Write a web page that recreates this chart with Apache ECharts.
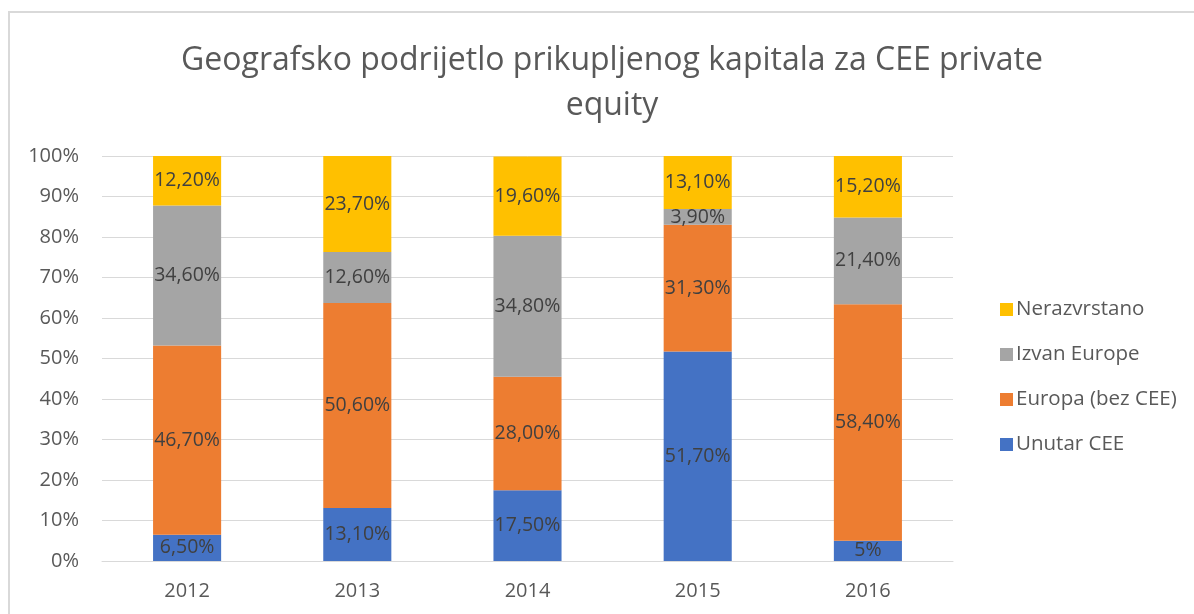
<!DOCTYPE html>
<html><head><meta charset="utf-8">
<script src="https://cdn.jsdelivr.net/npm/echarts@6/dist/echarts.min.js"></script>
<style>html,body{margin:0;padding:0;background:#fff;}#c{width:1194px;height:614px;}</style>
</head><body><div id="c"></div>
<script>
const categories = ['2012','2013','2014','2015','2016'];
const seriesNames = ['Unutar CEE','Europa (bez CEE)','Izvan Europe','Nerazvrstano'];
const unutarCEE = [6.5, 13.1, 17.5, 51.7, 5];
const europaBezCEE = [46.7, 50.6, 28.0, 31.3, 58.4];
const izvanEurope = [34.6, 12.6, 34.8, 3.9, 21.4];
const nerazvrstano = [12.2, 23.7, 19.6, 13.1, 15.2];
const unutarLabels = ['6,50%','13,10%','17,50%','51,70%','5%'];
const europaLabels = ['46,70%','50,60%','28,00%','31,30%','58,40%'];
const izvanLabels = ['34,60%','12,60%','34,80%','3,90%','21,40%'];
const nerazLabels = ['12,20%','23,70%','19,60%','13,10%','15,20%'];
const yTicks = ['0%','10%','20%','30%','40%','50%','60%','70%','80%','90%','100%'];
const colors = ['#4472c4','#ed7d31','#a5a5a5','#ffc000'];

const FONT = 'Open Sans';
const dataSets = [unutarCEE, europaBezCEE, izvanEurope, nerazvrstano];
const labelSets = [unutarLabels, europaLabels, izvanLabels, nerazLabels];

const series = seriesNames.map((n, i) => ({
  name: n, type: 'bar', stack: 'total', barWidth: '40%',
  itemStyle: {color: colors[i]},
  data: dataSets[i],
  label: {show: true, position: 'inside', color: '#404040', fontFamily: FONT, fontSize: 19.5,
    formatter: p => labelSets[i][p.dataIndex]}
}));

const chart = echarts.init(document.getElementById('c'));
chart.setOption({
  animation: false,
  textStyle: {fontFamily: FONT},
  title: {
    text: 'Geografsko podrijetlo prikupljenog kapitala za CEE private\nequity',
    left: 607, top: 33, textAlign: 'center',
    textStyle: {fontFamily: FONT, fontSize: 32, fontWeight: 'normal', color: '#595959', lineHeight: 45}
  },
  legend: {
    orient: 'vertical', left: 995, top: 294, itemGap: 24, itemWidth: 13, itemHeight: 13,
    icon: 'rect',
    data: ['Nerazvrstano','Izvan Europe','Europa (bez CEE)','Unutar CEE'],
    textStyle: {fontFamily: FONT, fontSize: 20.5, color: '#595959', padding: [0,0,0,-2]}
  },
  grid: {left: 102, right: 241, top: 156, bottom: 53, containLabel: false},
  xAxis: {
    type: 'category', data: categories,
    axisLine: {lineStyle: {color: '#d9d9d9', width: 1}},
    axisTick: {show: false},
    axisLabel: {color: '#595959', fontFamily: FONT, fontSize: 20, margin: 20}
  },
  yAxis: {
    type: 'value', min: 0, max: 100, interval: 10,
    axisLine: {show: false}, axisTick: {show: false},
    splitLine: {lineStyle: {color: '#d9d9d9', width: 1}},
    axisLabel: {color: '#595959', fontFamily: FONT, fontSize: 20, margin: 23,
      formatter: v => yTicks[Math.round(v / 10)]}
  },
  graphic: [
    {type: 'line', shape: {x1: 9, y1: 12, x2: 9, y2: 614}, style: {stroke: '#d9d9d9', lineWidth: 2}},
    {type: 'line', shape: {x1: 8, y1: 12, x2: 1194, y2: 12}, style: {stroke: '#d9d9d9', lineWidth: 2}}
  ],
  series: series
});
</script></body></html>
